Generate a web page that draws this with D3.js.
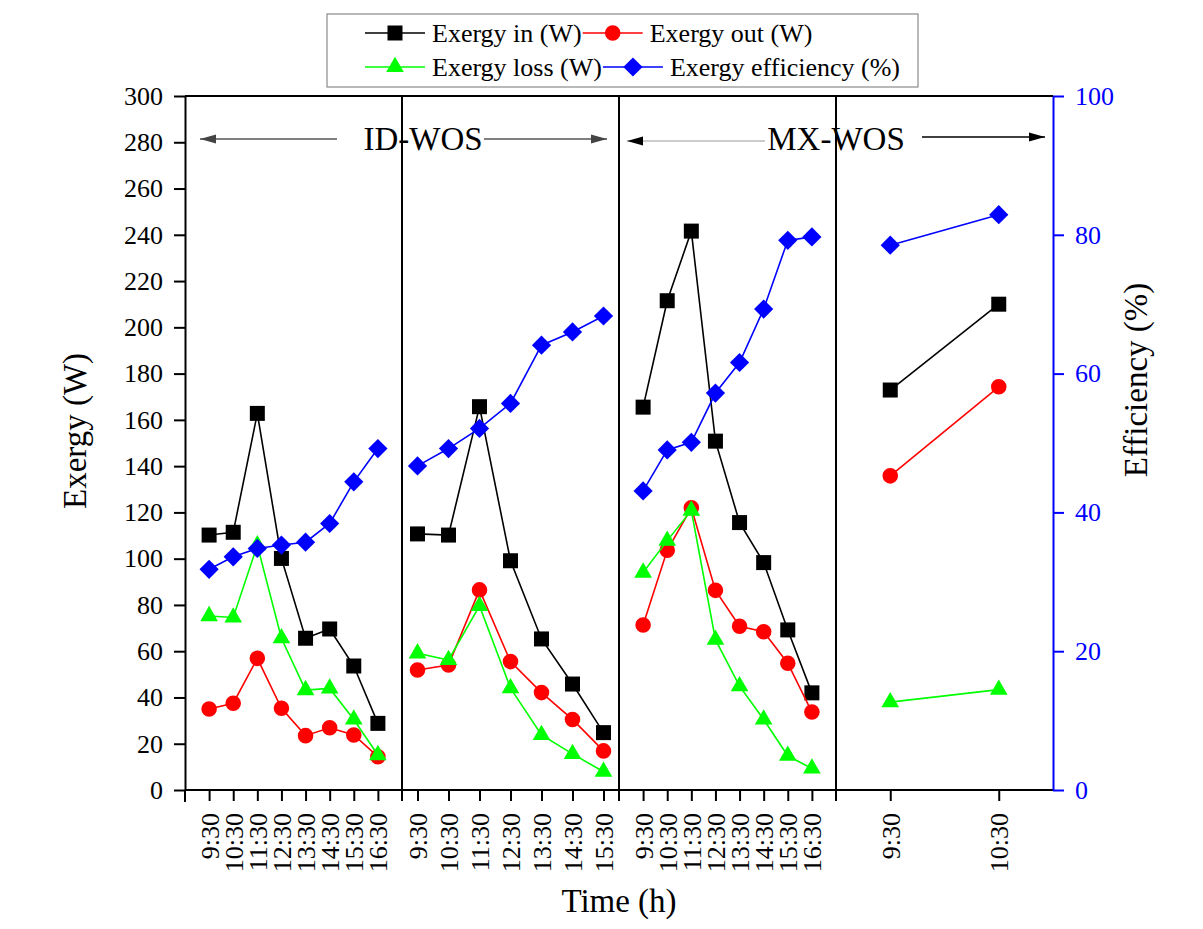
<!DOCTYPE html>
<html>
<head>
<meta charset="utf-8">
<script src="https://cdn.jsdelivr.net/npm/d3@7"></script>
<style>
  body { margin: 0; background: #ffffff; }
  svg { display: block; font-family: "Liberation Serif", "Times New Roman", serif; }
</style>
</head>
<body>
<div id="chart"></div>
<script>
// Time categories for the four panels
const timesA = ['9:30', '10:30', '11:30', '12:30', '13:30', '14:30', '15:30', '16:30'];
const timesB = ['9:30', '10:30', '11:30', '12:30', '13:30', '14:30', '15:30'];
const timesC = ['9:30', '10:30', '11:30', '12:30', '13:30', '14:30', '15:30', '16:30'];
const timesD = ['9:30', '10:30'];

// Panel A (ID-WOS, day 1)
const exInA = [110.2, 111.4, 162.8, 100.1, 65.6, 69.6, 53.6, 28.8];
const exOutA = [35.0, 37.5, 56.9, 35.3, 23.5, 26.9, 23.8, 14.4];
const exLossA = [75.2, 74.6, 105.8, 65.6, 43.2, 43.9, 30.5, 15.1];
const effA = [31.8, 33.6, 34.8, 35.3, 35.7, 38.4, 44.4, 49.2];

// Panel B (ID-WOS, day 2)
const exInB = [110.7, 110.2, 165.7, 99.1, 65.3, 45.8, 24.8];
const exOutB = [51.9, 54.0, 86.5, 55.5, 42.1, 30.5, 16.9];
const exLossB = [59.1, 56.2, 79.6, 44.0, 23.8, 15.6, 7.9];
const effB = [46.7, 49.2, 52.1, 55.7, 64.1, 66.0, 68.3];

// Panel C (MX-WOS, day 1)
const exInC = [165.5, 211.5, 241.6, 150.8, 115.6, 98.3, 69.2, 42.0];
const exOutC = [71.3, 103.6, 122.0, 86.3, 70.8, 68.4, 54.8, 33.7];
const exLossC = [94.0, 107.8, 120.8, 65.0, 44.9, 30.5, 14.8, 9.3];
const effC = [43.1, 49.0, 50.1, 57.2, 61.6, 69.3, 79.2, 79.7];

// Panel D (MX-WOS, day 2)
const exInD = [172.9, 210.0];
const exOutD = [135.8, 174.3];
const exLossD = [38.0, 43.4];
const effD = [78.5, 82.9];

const seriesNames = ['Exergy in (W)', 'Exergy out (W)', 'Exergy loss (W)', 'Exergy efficiency (%)'];
const leftTicks = d3.range(0, 301, 20);
const rightTicks = d3.range(0, 101, 20);

const W = 1203, H = 929;
const plot = { left: 185, right: 1053, top: 96, bottom: 790 };
const FONT = 26;

const svg = d3.select('#chart')
  .append('svg')
  .attr('width', W)
  .attr('height', H);

svg.append('rect').attr('width', W).attr('height', H).attr('fill', '#ffffff');

const y = d3.scaleLinear().domain([0, 300]).range([plot.bottom, plot.top]);
const yEff = d3.scaleLinear().domain([0, 100]).range([plot.bottom, plot.top]);
const panelBand = d3.scaleBand().domain(d3.range(4)).range([plot.left, plot.right]);

const panels = [
  { times: timesA, values: [exInA, exOutA, exLossA, effA], pad: 1 },
  { times: timesB, values: [exInB, exOutB, exLossB, effB], pad: 0.5 },
  { times: timesC, values: [exInC, exOutC, exLossC, effC], pad: 1 },
  { times: timesD, values: [exInD, exOutD, exLossD, effD], pad: 0.5 }
];
panels.forEach((p, i) => {
  p.x = d3.scalePoint()
    .domain(p.times)
    .range([panelBand(i), panelBand(i) + panelBand.bandwidth()])
    .padding(p.pad);
});

const styles = [
  { color: '#000000', symbol: d3.symbolSquare, size: 225, rot: 0, scale: y },
  { color: '#ff0000', symbol: d3.symbolCircle, size: 190, rot: 0, scale: y },
  { color: '#00ff00', symbol: d3.symbolTriangle, size: 135, rot: 0, scale: y },
  { color: '#0000ff', symbol: d3.symbolSquare, size: 185, rot: 45, scale: yEff }
];

// Frame: top line, dividers
svg.append('line')
  .attr('x1', plot.left).attr('x2', plot.right)
  .attr('y1', plot.top).attr('y2', plot.top)
  .attr('stroke', '#000').attr('stroke-width', 2);

for (let i = 1; i < 4; i++) {
  svg.append('line')
    .attr('x1', panelBand(i)).attr('x2', panelBand(i))
    .attr('y1', plot.top).attr('y2', plot.bottom + 11)
    .attr('stroke', '#000').attr('stroke-width', 2);
}

// Bottom axis, one per panel
panels.forEach(p => {
  const ax = svg.append('g')
    .attr('transform', `translate(0,${plot.bottom})`)
    .call(d3.axisBottom(p.x).tickSizeInner(11).tickSizeOuter(0));
  ax.select('.domain').remove();
  ax.attr('font-size', FONT).attr('font-family', null);
  ax.selectAll('line').attr('stroke-width', 2);
  ax.selectAll('text')
    .attr('fill', '#000')
    .attr('transform', 'rotate(-90)')
    .attr('text-anchor', 'end')
    .attr('x', -23)
    .attr('y', 0)
    .attr('dy', '0.35em');
});

svg.append('line')
  .attr('x1', plot.left).attr('x2', plot.right)
  .attr('y1', plot.bottom).attr('y2', plot.bottom)
  .attr('stroke', '#000').attr('stroke-width', 2);

// Left axis
const leftAx = svg.append('g')
  .attr('transform', `translate(${plot.left},0)`)
  .call(d3.axisLeft(y).tickValues(leftTicks).tickSizeInner(11).tickSizeOuter(0).tickPadding(11));
leftAx.attr('font-size', FONT).attr('font-family', null);
leftAx.select('.domain').attr('stroke-width', 2);
leftAx.selectAll('line').attr('stroke-width', 2);
leftAx.selectAll('text').attr('fill', '#000');
svg.append('line')
  .attr('x1', plot.left).attr('x2', plot.left)
  .attr('y1', plot.bottom).attr('y2', plot.bottom + 12)
  .attr('stroke', '#000').attr('stroke-width', 2);

// Right axis (efficiency)
const rightAx = svg.append('g')
  .attr('transform', `translate(${plot.right},0)`)
  .call(d3.axisRight(yEff).tickValues(rightTicks).tickSizeInner(11).tickSizeOuter(0).tickPadding(11));
rightAx.attr('font-size', FONT).attr('font-family', null);
rightAx.select('.domain').attr('stroke', '#0000ff').attr('stroke-width', 2);
rightAx.selectAll('line').attr('stroke', '#0000ff').attr('stroke-width', 2);
rightAx.selectAll('text').attr('fill', '#0000ff');

// Axis titles
svg.append('text')
  .attr('transform', `translate(86,431) rotate(-90)`)
  .attr('text-anchor', 'middle')
  .attr('font-size', 33)
  .text('Exergy (W)');

svg.append('text')
  .attr('transform', `translate(1147,380) rotate(-90)`)
  .attr('text-anchor', 'middle')
  .attr('font-size', 33)
  .text('Efficiency (%)');

svg.append('text')
  .attr('x', (plot.left + plot.right) / 2)
  .attr('y', 912)
  .attr('text-anchor', 'middle')
  .attr('font-size', 33)
  .text('Time (h)');

// Series: line then markers, series by series
styles.forEach((st, si) => {
  const g = svg.append('g');
  panels.forEach(p => {
    const pts = p.times.map((t, k) => [p.x(t), st.scale(p.values[si][k])]);
    g.append('path')
      .attr('d', d3.line()(pts))
      .attr('fill', 'none')
      .attr('stroke', st.color)
      .attr('stroke-width', 1.6);
    g.selectAll(null)
      .data(pts)
      .enter()
      .append('path')
      .attr('d', d3.symbol(st.symbol, st.size)())
      .attr('transform', d => `translate(${d[0]},${d[1]}) rotate(${st.rot})`)
      .attr('fill', st.color);
  });
});

// Annotations with arrows
const defs = svg.append('defs');
['#444444', '#000000'].forEach((c, i) => {
  defs.append('marker')
    .attr('id', 'arrow' + i)
    .attr('viewBox', '0 -5 16 10')
    .attr('refX', 16).attr('refY', 0)
    .attr('markerWidth', 16).attr('markerHeight', 10)
    .attr('markerUnits', 'userSpaceOnUse')
    .attr('orient', 'auto')
    .append('path')
    .attr('d', 'M0,-4.5L16,0L0,4.5Z')
    .attr('fill', c);
});

const arrows = [
  { x1: 337, x2: 200, y: 139, c: '#555555', m: 0 },
  { x1: 484, x2: 607, y: 139, c: '#555555', m: 0 },
  { x1: 765, x2: 627, y: 141, c: '#bbbbbb', m: 1 },
  { x1: 922, x2: 1045, y: 137, c: '#000000', m: 1 }
];
arrows.forEach(a => {
  svg.append('line')
    .attr('x1', a.x1).attr('x2', a.x2)
    .attr('y1', a.y).attr('y2', a.y)
    .attr('stroke', a.c).attr('stroke-width', 1.3)
    .attr('marker-end', `url(#arrow${a.m})`);
});

svg.append('text')
  .attr('x', 423).attr('y', 150)
  .attr('text-anchor', 'middle')
  .attr('font-size', 33)
  .text('ID-WOS');

svg.append('text')
  .attr('x', 836).attr('y', 150)
  .attr('text-anchor', 'middle')
  .attr('font-size', 33)
  .text('MX-WOS');

// Legend
const legend = svg.append('g');
legend.append('rect')
  .attr('x', 327).attr('y', 14)
  .attr('width', 591).attr('height', 73)
  .attr('fill', '#ffffff')
  .attr('stroke', '#8a8a8a')
  .attr('stroke-width', 1.2);

const rows = [[0, 1], [2, 3]];
const rowY = [33, 67];
rows.forEach((row, ri) => {
  let x = 365;
  row.forEach(si => {
    const st = styles[si];
    const cy = rowY[ri];
    legend.append('line')
      .attr('x1', x).attr('x2', x + 60)
      .attr('y1', cy).attr('y2', cy)
      .attr('stroke', st.color).attr('stroke-width', 1.6);
    legend.append('path')
      .attr('d', d3.symbol(st.symbol, st.size)())
      .attr('transform', `translate(${x + 30},${cy}) rotate(${st.rot})`)
      .attr('fill', st.color);
    const t = legend.append('text')
      .attr('x', x + 67)
      .attr('y', cy)
      .attr('dy', '0.33em')
      .attr('font-size', FONT)
      .text(seriesNames[si]);
    x = x + 67 + t.node().getComputedTextLength() + 1;
  });
});
</script>
</body>
</html>
